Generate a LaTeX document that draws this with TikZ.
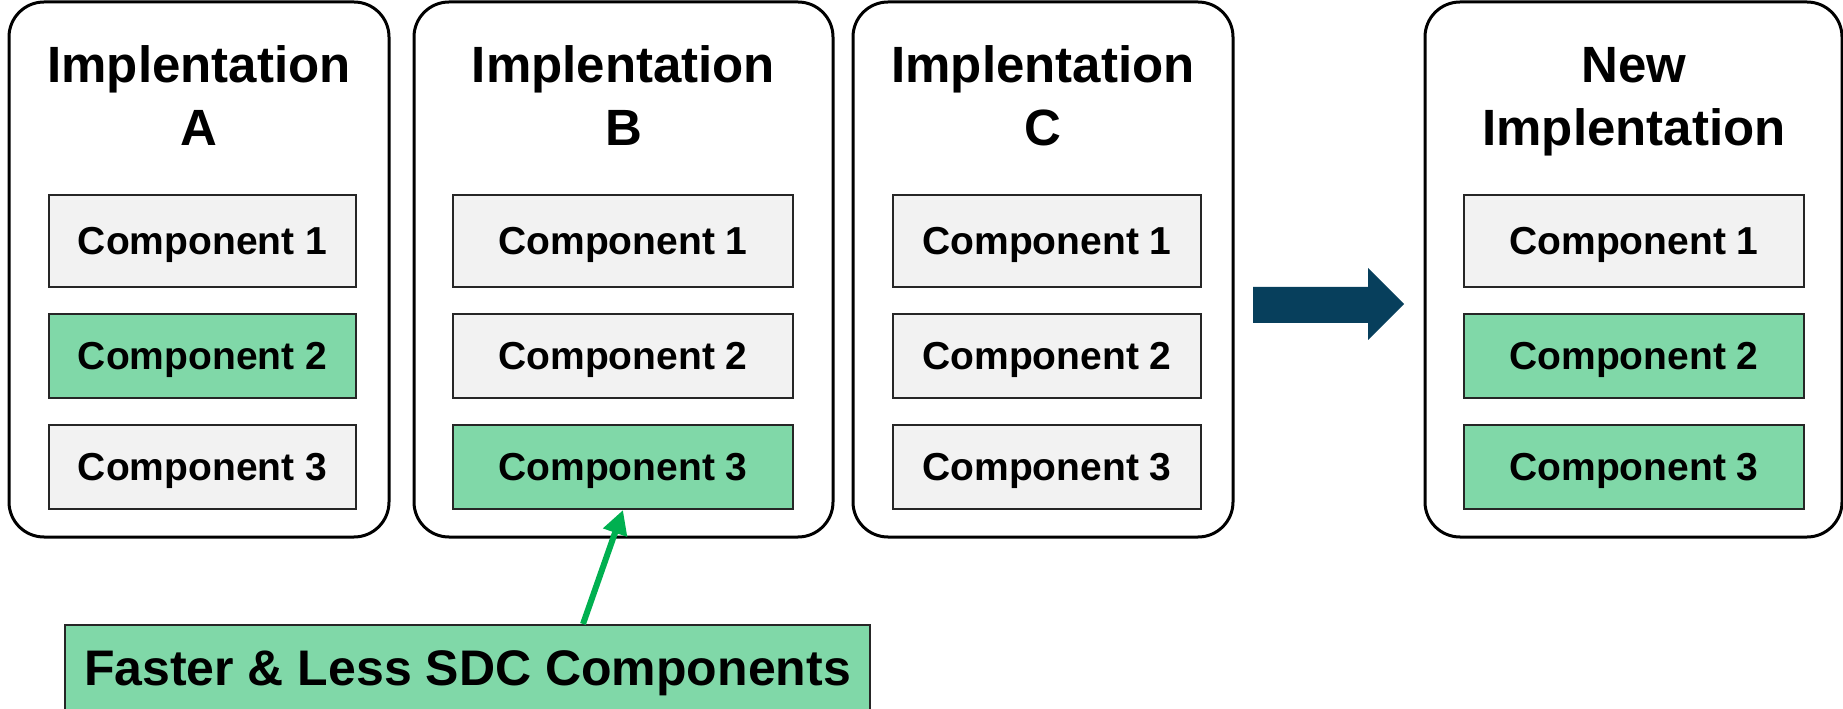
\documentclass[tikz,border=0pt]{standalone}
\usepackage{fontspec}
\setmainfont{Liberation Sans}
\usetikzlibrary{arrows.meta}
\definecolor{compgreen}{HTML}{80D8A8}
\definecolor{compgrey}{HTML}{F2F2F2}
\definecolor{arrowblue}{HTML}{073F5C}
\definecolor{pointgreen}{HTML}{00B050}

\begin{document}
\begin{tikzpicture}[x=0.5pt,y=0.5pt,
  impl/.style={draw,line width=1.5pt,rounded corners=17.5pt,minimum width=#1,minimum height=267.5pt,inner sep=0pt},
  title/.style={align=center,inner sep=0pt,font=\fontsize{25.5}{31.5}\selectfont\bfseries},
  comp/.style={draw=black!85,line width=1pt,fill=compgrey,minimum height=42pt,inner sep=0pt,text depth=0pt,font=\fontsize{19.5}{22}\selectfont\bfseries},
  good/.style={comp,fill=compgreen}]
  \useasboundingbox (0,0) rectangle (1843,708);

  % implementations
  \node[impl=190pt] (implA) at (199,438.5) {};
  \node[impl=209.5pt] (implB) at (623.5,438.5) {};
  \node[impl=190pt] (implC) at (1043,438.5) {};
  \node[impl=208.5pt] (implN) at (1633.5,438.5) {};
  \node[title,anchor=base] (titleA) at (199,562) {Implentation\\A};
  \node[title,anchor=base] (titleB) at (623.5,562) {Implentation\\B};
  \node[title,anchor=base] (titleC) at (1043,562) {Implentation\\C};
  \node[title,anchor=base] (titleN) at (1634,562) {New\\Implentation};

  % components
  \node[comp,minimum width=153.5pt,minimum height=46pt] (a1) at (202.5,467) {Component 1};
  \node[good,minimum width=153.5pt] (a2) at (202.5,352) {Component 2};
  \node[comp,minimum width=153.5pt] (a3) at (202.5,241) {Component 3};
  \node[comp,minimum width=170pt,minimum height=46pt] (b1) at (623,467) {Component 1};
  \node[comp,minimum width=170pt] (b2) at (623,352) {Component 2};
  \node[good,minimum width=170pt] (b3) at (623,241) {Component 3};
  \node[comp,minimum width=154pt,minimum height=46pt] (c1) at (1047,467) {Component 1};
  \node[comp,minimum width=154pt] (c2) at (1047,352) {Component 2};
  \node[comp,minimum width=154pt] (c3) at (1047,241) {Component 3};
  \node[comp,minimum width=170pt,minimum height=46pt] (n1) at (1634,467) {Component 1};
  \node[good,minimum width=170pt] (n2) at (1634,352) {Component 2};
  \node[good,minimum width=170pt] (n3) at (1634,241) {Component 3};

  % block arrow to the new one
  \fill[arrowblue] (1253,421) -- (1368,421) -- (1368,440) -- (1404,404) -- (1368,368) -- (1368,385) -- (1253,385) -- cycle;

  % callout
  \node[good,minimum width=402.5pt,minimum height=43pt,anchor=north,font=\fontsize{25}{30}\selectfont\bfseries] (faster) at (467.5,84) {Faster \& Less SDC Components};
  \draw[-{Triangle[length=12pt,width=12pt]},line width=3pt,pointgreen] ([xshift=57.75pt]faster.north) -- (b3.south);
\end{tikzpicture}
\end{document}
